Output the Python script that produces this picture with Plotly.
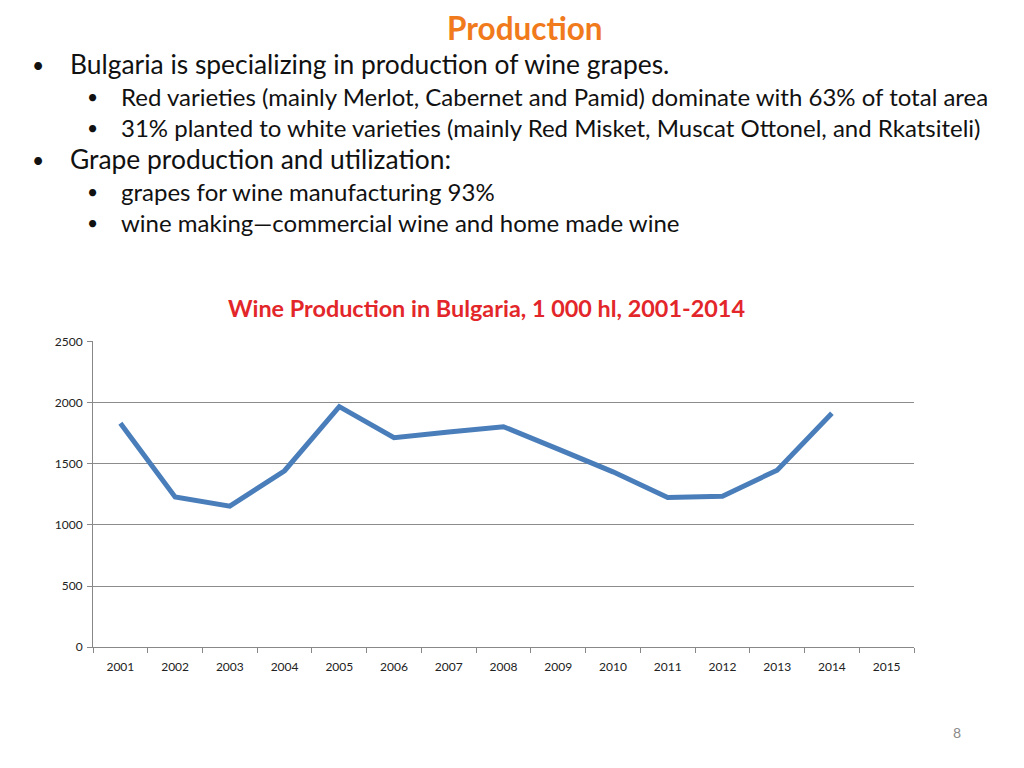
import plotly.graph_objects as go

years = [str(y) for y in range(2001, 2016)]
production = [1831, 1229, 1153, 1443, 1967, 1713, 1760, 1803, 1620, 1434, 1225, 1235, 1448, 1913, None]
y_ticks = [0, 500, 1000, 1500, 2000, 2500]

slide_title = "Production"
chart_title = "Wine Production in Bulgaria, 1 000 hl, 2001-2014"
bullets = [
    (0, "Bulgaria is specializing in production of wine grapes.", 65),
    (1, "Red varieties (mainly Merlot, Cabernet and Pamid) dominate with 63% of total area", 97),
    (1, "31% planted to white varieties (mainly Red Misket, Muscat Ottonel, and Rkatsiteli)", 128),
    (0, "Grape production and utilization:", 160),
    (1, "grapes for wine manufacturing 93%", 192),
    (1, "wine making\u2014commercial wine and home made wine", 223),
]

OFF_X = 8
Y0, YS = 15.6, 0.98
W, H = 1008, 736
FONT = "Lato"

fig = go.Figure()
fig.add_trace(go.Scatter(
    x=years, y=production, mode="lines",
    line=dict(color="#4A7EBB", width=5),
    connectgaps=False, hoverinfo="skip", showlegend=False,
))

def px(x):
    return (x - OFF_X) / W

def py(y):
    return 1 - ((y - Y0) / YS) / H

TXT = -1  # glyph-centre correction for text

ann = [
    dict(text="<b>" + slide_title + "</b>", x=px(525), y=py(29 + TXT), xanchor="center", yanchor="middle",
         font=dict(family=FONT, size=31.5, color="#F07A1C")),
    dict(text="<b>" + chart_title + "</b>", x=px(486), y=py(309 + TXT), xanchor="center", yanchor="middle",
         font=dict(family=FONT, size=23.4, color="#E3262A")),
    dict(text="8", x=px(957), y=py(733 + TXT), xanchor="center", yanchor="middle",
         font=dict(family=FONT, size=14, color="#8A8A8A")),
]
for level, text, ypos in bullets:
    if level == 0:
        bx, tx, size = 38, 68, 26.4
    else:
        bx, tx, size = 92, 119, 24
    ann.append(dict(text="\u2022", x=px(bx), y=py(ypos + TXT), xanchor="center", yanchor="middle",
                    font=dict(family=FONT, size=size * 0.8, color="#111111")))
    ann.append(dict(text=text, x=px(tx), y=py(ypos + TXT), xanchor="left", yanchor="middle",
                    font=dict(family=FONT, size=size, color="#111111")))
for a in ann:
    a.update(xref="paper", yref="paper", showarrow=False)

fig.update_layout(
    width=W, height=H,
    margin=dict(l=0, r=0, t=0, b=0),
    paper_bgcolor="white", plot_bgcolor="white",
    annotations=ann,
    xaxis=dict(
        domain=[px(93), px(914)],
        type="category", categoryorder="array", categoryarray=years,
        range=[-0.5, 14.5],
        tickson="boundaries", ticks="outside", ticklen=5, tickcolor="#888888",
        showline=True, linecolor="#888888", linewidth=1,
        showgrid=False, zeroline=False,
        ticklabelstandoff=8,
        tickfont=dict(family=FONT, size=12, color="#222222"),
        fixedrange=True,
    ),
    yaxis=dict(
        domain=[py(647), py(341)],
        range=[0, 2502], tickvals=y_ticks,
        ticks="outside", ticklen=5, tickcolor="#888888",
        showline=True, linecolor="#888888", linewidth=1,
        showgrid=True, gridcolor="#8C8C8C", gridwidth=1,
        zeroline=False,
        ticklabelstandoff=2,
        tickfont=dict(family=FONT, size=12, color="#222222"),
        fixedrange=True,
    ),
)

fig.write_html("out.html")
